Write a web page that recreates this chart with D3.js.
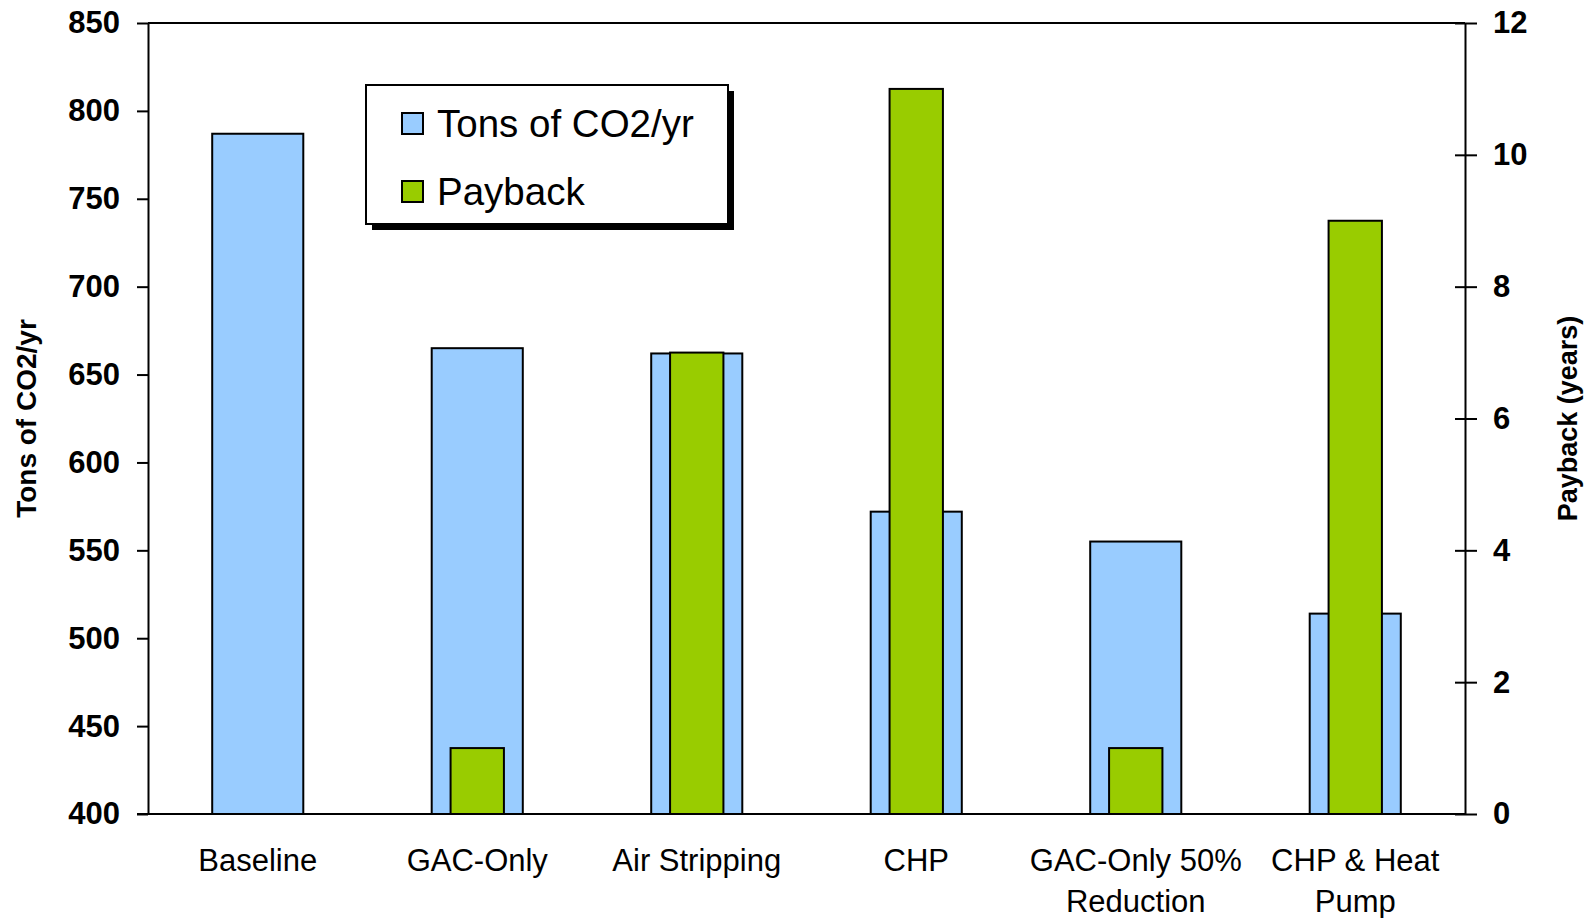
<!DOCTYPE html>
<html>
<head>
<meta charset="utf-8">
<script src="https://cdn.jsdelivr.net/npm/d3@7"></script>
<style>
  body { margin: 0; background: #fff; }
  svg { display: block; font-family: "Liberation Sans", Arial, sans-serif; }
</style>
</head>
<body>
<div id="chart"></div>
<script>
// categories (multi-line labels split on "|")
const categories = ["Baseline", "GAC-Only", "Air Stripping", "CHP", "GAC-Only 50%|Reduction", "CHP & Heat|Pump"];
// tons of CO2 per year (left axis)
const tons = [787, 665, 662, 572, 555, 514];
// payback in years (right axis), baseline has none
const payback = [null, 1, 7, 11, 1, 9];
const leftTicks = [400, 450, 500, 550, 600, 650, 700, 750, 800, 850];
const rightTicks = [0, 2, 4, 6, 8, 10, 12];
const legendItems = ["Tons of CO2/yr", "Payback"];

const W = 1593, H = 918;
const PLOT = {left: 148, right: 1465, top: 23, bottom: 814};
const BLUE = "#99CCFF", GREEN = "#99CC00";

const svg = d3.select("#chart").append("svg")
    .attr("width", W)
    .attr("height", H);

const x = d3.scaleBand()
    .domain(categories)
    .range([PLOT.left, PLOT.right])
    .padding(0);
const step = x.step();
const blueW = step * 0.415, greenW = step * 0.243;

const yL = d3.scaleLinear().domain([400, 850]).range([PLOT.bottom, PLOT.top]);
const yR = d3.scaleLinear().domain([0, 12]).range([PLOT.bottom, PLOT.top]);

// top border of the plot area
svg.append("line")
    .attr("x1", PLOT.left).attr("x2", PLOT.right)
    .attr("y1", PLOT.top).attr("y2", PLOT.top)
    .attr("stroke", "#000").attr("stroke-width", 2);

// blue bars
svg.append("g")
    .selectAll("rect")
    .data(categories)
    .join("rect")
      .attr("x", (d) => x(d) + step / 2 - blueW / 2)
      .attr("y", (d, i) => yL(tons[i]))
      .attr("width", blueW)
      .attr("height", (d, i) => yL(400) - yL(tons[i]))
      .attr("fill", BLUE)
      .attr("stroke", "#000")
      .attr("stroke-width", 2);

// green bars on top
svg.append("g")
    .selectAll("rect")
    .data(categories.filter((d, i) => payback[i] != null))
    .join("rect")
      .attr("x", (d) => x(d) + step / 2 - greenW / 2)
      .attr("y", (d) => yR(payback[categories.indexOf(d)]))
      .attr("width", greenW)
      .attr("height", (d) => yR(0) - yR(payback[categories.indexOf(d)]))
      .attr("fill", GREEN)
      .attr("stroke", "#000")
      .attr("stroke-width", 2);

// left axis
const gL = svg.append("g")
    .attr("transform", `translate(${PLOT.left},0)`)
    .call(d3.axisLeft(yL).tickValues(leftTicks).tickSize(11).tickPadding(17).tickSizeOuter(0));
gL.select(".domain").attr("stroke-width", 2);
gL.selectAll(".tick line").attr("stroke-width", 2);
gL.selectAll(".tick text")
    .attr("font-size", 31)
    .attr("font-weight", "bold")
    .attr("fill", "#000")
    .attr("font-family", "Liberation Sans, Arial, sans-serif");

// right axis with crossing ticks
const gR = svg.append("g")
    .attr("transform", `translate(${PLOT.right},0)`)
    .call(d3.axisRight(yR).tickValues(rightTicks).tickSize(12).tickPadding(16).tickSizeOuter(0));
gR.select(".domain").attr("stroke-width", 2);
gR.selectAll(".tick line").attr("x1", -10).attr("stroke-width", 2);
gR.selectAll(".tick text")
    .attr("font-size", 31)
    .attr("font-weight", "bold")
    .attr("fill", "#000")
    .attr("font-family", "Liberation Sans, Arial, sans-serif");

// bottom axis line (no ticks)
svg.append("line")
    .attr("x1", PLOT.left - 11).attr("x2", PLOT.right)
    .attr("y1", PLOT.bottom).attr("y2", PLOT.bottom)
    .attr("stroke", "#000").attr("stroke-width", 2);

// category labels
const labels = svg.append("g")
    .selectAll("text")
    .data(categories)
    .join("text")
      .attr("x", (d) => x(d) + step / 2)
      .attr("y", 871)
      .attr("text-anchor", "middle")
      .attr("font-size", 31)
      .attr("fill", "#000");
labels.selectAll("tspan")
    .data((d) => d.split("|").map((t) => ({t, cx: x(d) + step / 2})))
    .join("tspan")
      .attr("x", (d) => d.cx)
      .attr("dy", (d, i) => i === 0 ? 0 : 41)
      .text((d) => d.t);

// axis titles
svg.append("text")
    .attr("transform", `translate(36,${(PLOT.top + PLOT.bottom) / 2}) rotate(-90)`)
    .attr("text-anchor", "middle")
    .attr("font-size", 28)
    .attr("font-weight", "bold")
    .text("Tons of CO2/yr");

svg.append("text")
    .attr("transform", `translate(1577,${(PLOT.top + PLOT.bottom) / 2}) rotate(-90)`)
    .attr("text-anchor", "middle")
    .attr("font-size", 27)
    .attr("font-weight", "bold")
    .text("Payback (years)");

// legend box with shadow
const legend = svg.append("g").attr("transform", "translate(366,85)");
legend.append("rect")
    .attr("x", 6).attr("y", 6)
    .attr("width", 362).attr("height", 139)
    .attr("fill", "#000");
legend.append("rect")
    .attr("width", 362).attr("height", 139)
    .attr("fill", "#fff")
    .attr("stroke", "#000")
    .attr("stroke-width", 2);
const rows = legend.selectAll("g.row")
    .data(legendItems)
    .join("g")
      .attr("class", "row")
      .attr("transform", (d, i) => `translate(0,${38 + i * 68})`);
rows.append("rect")
    .attr("x", 36).attr("y", -10)
    .attr("width", 21).attr("height", 21)
    .attr("fill", (d, i) => i === 0 ? BLUE : GREEN)
    .attr("stroke", "#000")
    .attr("stroke-width", 2);
rows.append("text")
    .attr("x", 71)
    .attr("y", 14)
    .attr("font-size", 38.5)
    .text((d) => d);
</script>
</body>
</html>
